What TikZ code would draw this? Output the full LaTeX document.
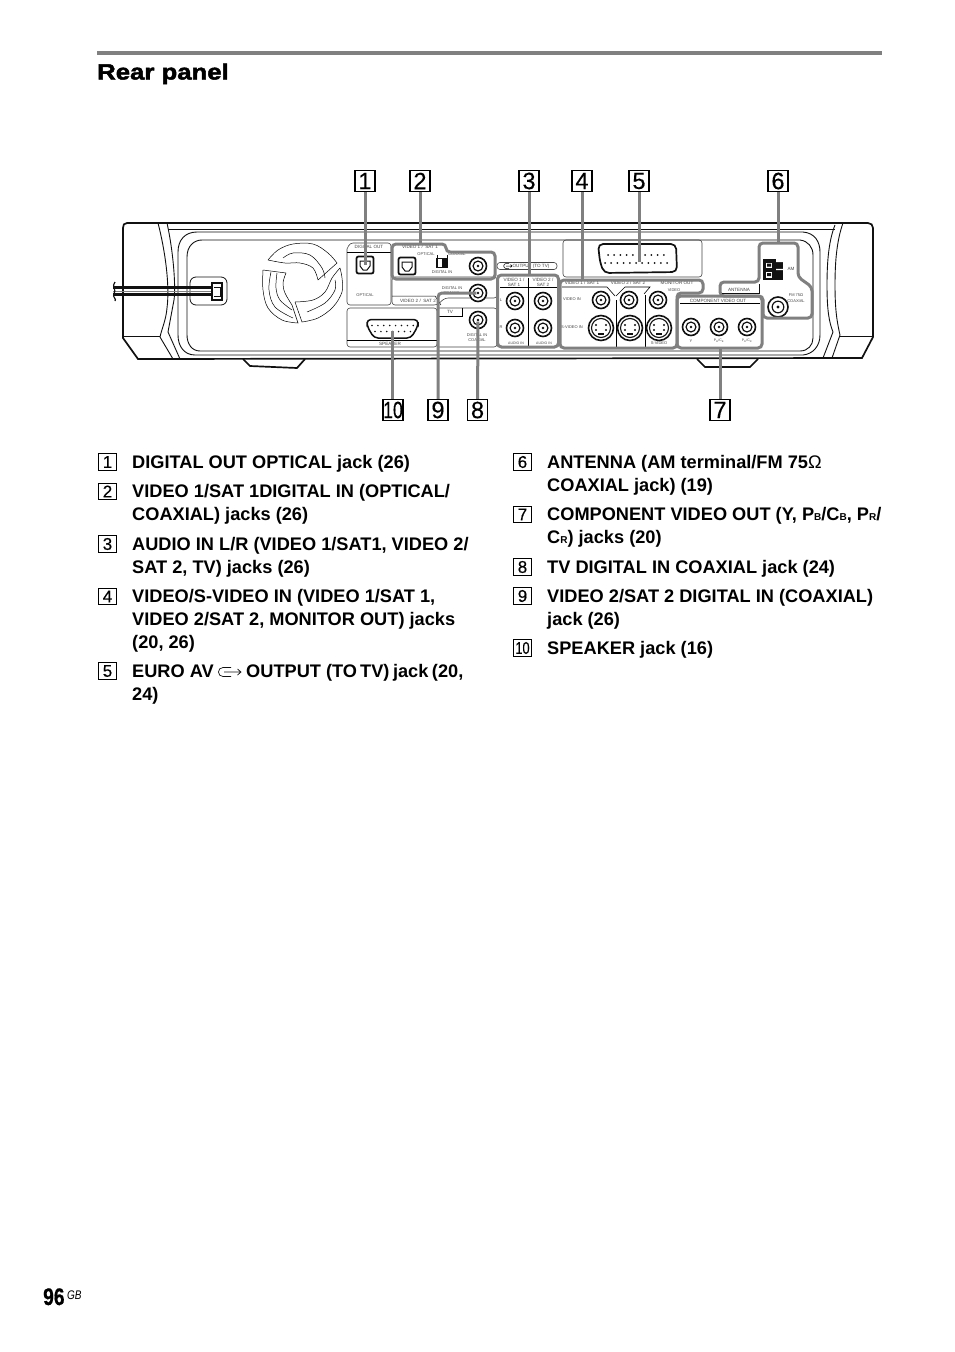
\documentclass[tikz,border=0pt]{standalone}
\usepackage{fontspec}
\setmainfont{Liberation Sans}
\newfontfamily\headf[BoldFeatures={FakeStretch=1.17,FakeBold=2.2}]{Liberation Sans}
\newfontfamily\numf[BoldFeatures={FakeStretch=0.8,FakeBold=0.6}]{Liberation Sans}
\newfontfamily\digf[FakeBold=0.4]{Liberation Sans}
\definecolor{lead}{HTML}{808080}
\definecolor{ink}{HTML}{111111}
\definecolor{thin}{HTML}{444444}
\newcounter{tlc}
\newcommand{\tl}[3]{\stepcounter{tlc}\node[tinytext] (t\thetlc) at (#1,#2) {#3};}
\newcommand{\ts}[3]{\stepcounter{tlc}\node[tinytext,font=\fontsize{4}{4}\selectfont] (t\thetlc) at (#1,#2) {#3};}
\newcommand{\tm}[3]{\stepcounter{tlc}\node[tinytext,font=\fontsize{3.5}{3.5}\selectfont] (t\thetlc) at (#1,#2) {#3};}
\newcommand{\coax}[4]{%
  \node[circle,draw=ink,line width=1.6pt,fill=white,inner sep=0,minimum size=#4pt] (#1) at (#2,#3) {};
  \node[circle,draw=ink,line width=1.2pt,inner sep=0,minimum size=0.58*#4pt] (#1i) at (#2,#3) {};
  \node[circle,fill=ink,inner sep=0,minimum size=0.16*#4pt] (#1c) at (#2,#3) {};}
\newcommand{\svid}[3]{%
  \node[circle,draw=ink,line width=1.6pt,fill=white,inner sep=0,minimum size=25pt] (#1) at (#2,#3) {};
  \node[circle,draw=ink,line width=1.1pt,inner sep=0,minimum size=19pt] (#1i) at (#2,#3) {};
  \fill[ink] (#2-5,#3-3) circle (1.2) (#2+5,#3-3) circle (1.2) (#2-5,#3+2) circle (1.2) (#2+5,#3+2) circle (1.2);
  \fill[ink] (#2-3,#3+5) rectangle (#2+3,#3+7);}
\newcommand{\optic}[3]{%
  \node[draw=ink,line width=1.8pt,rounded corners=2pt,fill=white,inner sep=0,minimum size=17pt] (#1) at (#2,#3) {};
  \draw[ink,line width=1pt] (#2-5,#3-4) -- (#2+5,#3-4) -- (#2+5,#3+1) -- (#2+2,#3+5) -- (#2-2,#3+5) -- (#2-5,#3+1) -- cycle;}
\tikzset{
  tinytext/.style={font=\fontsize{4.6}{4.6}\selectfont,text=thin,inner sep=0,anchor=center},
  panel/.style={draw=thin,line width=0.6pt,rounded corners=3pt},
  body/.style={ink,line width=0.9pt},
  heavy/.style={ink,line width=1.7pt},
  zone/.style={draw=lead,line width=3pt,rounded corners=4pt},
  leader/.style={lead,line width=3pt},
  bigbox/.style={draw=black,line width=1.2pt,fill=white,inner sep=0,minimum width=20pt,minimum height=21pt,font=\fontsize{23.5}{24}\digf\selectfont},
  keybox/.style={draw=black,line width=0.8pt,fill=white,inner sep=0,minimum width=18pt,minimum height=16.5pt,font=\fontsize{17}{17}\digf\selectfont},
  legend/.style={font=\fontsize{18.2}{23}\bfseries\selectfont,text=black,align=left,anchor=base west,inner sep=0,yshift=-0.8pt},
  blade/.style={thin,line width=0.5pt},
}
\newcommand{\sbs}[1]{{\fontsize{10}{10}\selectfont #1}}
\begin{document}
\begin{tikzpicture}[x=1pt,y=-1pt]
\useasboundingbox (0,0) rectangle (954,1352);
\fill[white] (0,0) rectangle (954,1352);
% header
\fill[lead] (97,51) rectangle (882,55);
\node[font=\fontsize{22}{24}\headf\bfseries\selectfont,anchor=base west,inner sep=0] (title) at (97,79.5) {Rear panel};
% chassis
\draw[heavy] (138,359) -- (123,338) -- (123,228) .. controls (123,225) and (124,223) .. (127,223) -- (868,223) .. controls (871,223) and (873,225) .. (873,228) -- (873,337) -- (862,358) -- cycle;
\draw[body] (123,336) -- (160,336) (840,336) -- (873,336);
\draw[body] (168,229) -- (835,229);
\draw[body] (158,223) .. controls (165,250) and (170,285) .. (167,308) .. controls (166,320) and (162,328) .. (160,337) -- (173,359);
\draw[body] (167,223) .. controls (173,250) and (176,285) .. (174,300) -- (168,332) -- (180,359);
\draw[body] (835,225) .. controls (829,240) and (827,260) .. (827,285) .. controls (827,310) and (829,322) .. (833,332) -- (823,358);
\draw[body] (843,223) .. controls (837,240) and (835,260) .. (835,285) .. controls (835,310) and (837,322) .. (840,335) -- (832,358);
\draw[body] (803,232) .. controls (815,233) and (820,242) .. (820,252) -- (820,335) .. controls (820,346) and (813,354) .. (803,355) -- (195,355) .. controls (184,355) and (178,346) .. (178,335) -- (178,252) .. controls (178,240) and (185,232) .. (197,232) -- cycle;
\draw[body] (800,240) .. controls (808,241) and (813,247) .. (813,255) -- (813,338) .. controls (813,345) and (808,351) .. (800,351) -- (200,351) .. controls (192,351) and (187,344) .. (187,335) -- (187,257) .. controls (187,246) and (194,240) .. (202,240) -- cycle;
\draw[heavy] (243,359) -- (250,366) -- (297,368) -- (305,359);
\draw[heavy] (697,359) -- (705,367) -- (750,367) -- (758,359);
% cord and socket
\node[draw=ink,line width=0.8pt,fill=white,rounded corners=6pt,inner sep=0,minimum width=37pt,minimum height=28pt] (socket) at (208.5,291) {};
\draw[ink,line width=2.2pt] (113,287.5) -- (219,287.5);
\draw[ink,line width=2.2pt] (113,294.5) -- (219,294.5);
\draw[lead,line width=1pt] (113,291) -- (219,291);
\draw[ink,line width=1.2pt] (115,282) .. controls (111,286) and (117,290) .. (114,294) .. controls (112,297) and (117,299) .. (115,301);
\node[draw=ink,line width=1.4pt,fill=white,inner sep=0,minimum width=10pt,minimum height=17pt] (plug) at (217,291.5) {};
\draw[ink,line width=1pt] (214,287) -- (220,287) -- (220,296) -- (214,296);
% fan
\draw[blade] plot[smooth,tension=.6] coordinates {(268,260) (278,250) (293,244) (313,244) (328,253) (337,263)} -- (318,280) plot[smooth,tension=.6] coordinates {(318,280) (313,268) (300,263) (285,263) (268,260)};
\draw[blade] plot[smooth,tension=.6] coordinates {(283,258) (293,253) (310,255) (322,268) (325,278)};
\draw[blade] plot[smooth,tension=.6] coordinates {(340,268) (342,278) (342,292) (333,307) (318,318) (302,322)} -- (295,302) plot[smooth,tension=.6] coordinates {(295,302) (313,300) (325,292) (332,278) (340,268)};
\draw[blade] plot[smooth,tension=.6] coordinates {(335,280) (335,290) (325,303) (307,312)};
\draw[blade] plot[smooth,tension=.6] coordinates {(263,270) (263,290) (268,308) (282,320) (298,323)} -- (292,305) plot[smooth,tension=.6] coordinates {(292,305) (285,293) (283,283) (286,273)} -- (263,270);
\draw[blade] plot[smooth,tension=.6] coordinates {(271,272) (269,290) (275,307) (293,318)};
\draw[blade] plot[smooth,tension=.6] coordinates {(277,273) (276,288) (280,300) (292,310)};
% panel frames
\draw[panel] (347,249) -- (347,305) -- (391,305) -- (391,243) -- (350,243) -- (347,249);
\draw[thin,line width=.5pt] (347,252) -- (391,252);
\draw[panel] (392,277) -- (392,305) -- (437,305) -- (445,298) -- (497,298) -- (497,277) -- cycle;
\draw[thin,line width=.5pt] (392,296) -- (435,296) -- (441,305);
\draw[panel] (347,308) -- (437,308) -- (437,347) -- (347,347) -- cycle;
\draw[thin,line width=.5pt] (347,340) -- (437,340);
\draw[panel] (437,308) -- (497,308) -- (497,347) -- (437,347);
\draw[thin,line width=.6pt] (437,316) -- (462,316) -- (462,308);
\draw[panel] (563,240) -- (702,240) -- (702,277) -- (563,277) -- cycle;
\node[draw=thin,line width=.6pt,rounded corners=3pt,inner sep=0,minimum width=60pt,minimum height=7pt] (outtag) at (527,266) {};
\draw[thin,line width=.6pt] (528,277.5) -- (528,347);
\draw[thin,line width=.6pt] (500,287) -- (557,287);
\draw[thin,line width=.6pt] (616,300) -- (616,347) (645,295) -- (645,347);
\draw[thin,line width=.6pt] (562,287) -- (607,287) -- (615,296) (616,296) -- (625,287) -- (650,287) -- (644,294);
\draw[thin,line width=.6pt] (680,303) -- (760,303);
% jacks
\optic{dout}{365}{265}
\optic{opt}{407}{266}
\node[draw=ink,line width=1.1pt,fill=white,inner sep=0,minimum width=10pt,minimum height=9pt] (sw) at (442,263) {};
\fill[ink] (442,258.5) rectangle (446.5,267.5);
\draw[ink,line width=1pt] (436,258) -- (448,258) (437,255) -- (437,258) (447,255) -- (447,258);
\coax{cox1}{478}{266}{17}
\coax{cox2}{478}{293}{17}
\coax{cox3}{478}{320}{17}
\coax{al1}{515}{301}{17}
\coax{al2}{543}{301}{17}
\coax{ar1}{515}{328}{17}
\coax{ar2}{543}{328}{17}
\coax{v1}{601}{300}{17}
\coax{v2}{629}{300}{17}
\coax{v3}{658}{300}{17}
\svid{s1}{601}{328}
\svid{s2}{630}{328}
\svid{s3}{659}{328}
\coax{c1}{691}{327}{17}
\coax{c2}{719}{327}{17}
\coax{c3}{747}{327}{17}
\coax{fm}{778}{307}{20}
% speaker D-sub
\draw[ink,line width=1.5pt,fill=white,rounded corners=4pt] (367,319.5) -- (418,319.5) -- (418,326) -- (411,338) -- (374,338) -- (367,326) -- cycle;
\node[inner sep=0,minimum size=1pt] (spk) at (392,330) {};
\foreach \i in {0,...,7}{\fill[ink] (372+\i*5.9,325.5) circle (.85);}
\foreach \i in {0,...,6}{\fill[ink] (375+\i*5.9,331.5) circle (.85);}
% scart
\draw[ink,line width=1.7pt,fill=white,rounded corners=5pt] (598,244) -- (676,244) -- (677,272) -- (604,273) -- (600,262) -- cycle;
\node[inner sep=0,minimum size=1pt] (scart) at (637,262) {};
\foreach \i in {0,...,9}{\fill[ink] (608+\i*6.2,255) circle (1);}
\foreach \i in {0,...,10}{\fill[ink] (605+\i*6.2,263) circle (1);}
% AM terminal
\fill[ink] (763,259) rectangle (783,280);
\node[draw=ink,fill=white,line width=.5pt,inner sep=0,minimum width=7pt,minimum height=6.5pt] (am1) at (769,265) {};
\node[draw=ink,fill=white,line width=.5pt,inner sep=0,minimum width=7pt,minimum height=6.5pt] (am2) at (769,274.5) {};
\fill[ink] (767,263.5) rectangle (771,266.5) (767,273) rectangle (771,276);
\fill[white] (776,259) rectangle (783,262) (776,268.9) rectangle (783,270.1);
% tiny text
\tl{369}{247}{DIGITAL OUT}
\ts{365}{295.5}{OPTICAL}
\tl{420}{247}{VIDEO 1 /\ \ SAT 1}
\ts{426}{254.5}{OPTICAL}
\ts{457}{254.5}{COAXIAL}
\ts{442}{272}{DIGITAL IN}
\ts{452}{288}{DIGITAL IN}
\ts{452}{293.5}{COAXIAL}
\tl{418}{301}{VIDEO 2 /\ \ SAT 2}
\tl{450}{311.5}{TV}
\ts{477}{335}{DIGITAL IN}
\ts{477}{340}{COAXIAL}
\tl{390}{343.5}{SPEAKER}
\tl{531}{266}{OUTPUT (TO TV)}
\draw[thin,line width=.5pt] (509,263.5) -- (506,263.5) .. controls (503,263.5) and (503,268.5) .. (506,268.5) -- (509,268.5) (506,266) -- (512,266) (510.5,264.5) -- (512,266) -- (510.5,267.5);
\tl{514}{280}{VIDEO 1 /}
\tl{514}{284.5}{SAT 1}
\tl{543}{280}{VIDEO 2 /}
\tl{543}{284.5}{SAT 2}
\ts{501}{300}{L}
\ts{501}{327}{R}
\tm{516}{343.5}{AUDIO IN}
\tm{544}{343.5}{AUDIO IN}
\tl{582}{283}{VIDEO 1 / SAT 1}
\tl{628}{283}{VIDEO 2 / SAT 2}
\tl{677}{283}{MONITOR OUT}
\ts{674}{290}{VIDEO}
\ts{572}{299}{VIDEO IN}
\ts{572}{327}{S-VIDEO IN}
\ts{659}{343.5}{S-VIDEO}
\tl{718}{301}{COMPONENT VIDEO OUT}
\ts{691}{341}{Y}
\tm{719}{341}{P\textsubscript{B}/C\textsubscript{B}}
\tm{747}{341}{P\textsubscript{R}/C\textsubscript{R}}
\tl{739}{290}{ANTENNA}
\tl{791}{269}{AM}
\ts{796}{295}{FM 75Ω}
\ts{796}{301}{COAXIAL}
% grey zones
\draw[zone] (392,279) -- (392,244) -- (446,244) -- (446,252) -- (495,252) -- (495,279) -- cycle;
\node[draw=lead,line width=3pt,rounded corners=4pt,inner sep=0,minimum width=61pt,minimum height=72pt] (zaudio) at (528,311) {};
\draw[zone] (560,348) -- (560,280) -- (703,280) -- (703,293) -- (677,293) -- (677,348) -- cycle;
\draw[zone] (677,348) -- (677,296) -- (762,296) -- (762,348) -- cycle;
\draw[zone] (759,243) -- (798,243) -- (798,277) -- (812,287) -- (812,318) -- (763,318) -- (763,296) -- (720,296) -- (720,282) -- (759,282) -- cycle;
\draw[ink,line width=.8pt] (722,293.8) -- (759,293.8) -- (759,284);
% callouts
\node[bigbox] (n1) at (365,181) {1};
\node[bigbox] (n2) at (420,181) {2};
\node[bigbox] (n3) at (529,181) {3};
\node[bigbox] (n4) at (582,181) {4};
\node[bigbox] (n5) at (639,181) {5};
\node[bigbox] (n6) at (778,181) {6};
\node[bigbox] (n10) at (393,410) {\scalebox{.75}[1]{10}};
\node[bigbox] (n9) at (438,410) {9};
\node[bigbox] (n8) at (477.5,410) {8};
\node[bigbox] (n7) at (720,410) {7};
\coordinate (z2) at (420,244);
\coordinate (z3) at (529,275);
\coordinate (z4) at (582,280);
\coordinate (z6) at (778,243);
\coordinate (z7) at (720,348);
\draw[leader] (n1) -- (dout.center);
\draw[leader] (n2) -- (z2);
\draw[leader] (n3) -- (z3);
\draw[leader] (n4) -- (z4);
\draw[leader] (n5.south) -- (scart.center -| n5.south);
\draw[leader] (n6) -- (z6);
\draw[leader] (n7) -- (z7);
\draw[leader] (n8) -- (cox3c);
\draw[leader,rounded corners=4pt] (n9) |- (cox2c);
\draw[leader] (n10.north -| spk) -- (spk);
% legend left
\node[keybox] (k1) at (107.5,462) {1};
\node[legend] (l1) at (132,467.5) {DIGITAL OUT OPTICAL jack (26)};
\node[keybox] (k2) at (107.5,491.5) {2};
\node[legend] (l2) at (132,497) {VIDEO 1/SAT 1DIGITAL IN (OPTICAL/};
\node[legend] (l2b) at (132,520) {COAXIAL) jacks (26)};
\node[keybox] (k3) at (107.5,544) {3};
\node[legend] (l3) at (132,549.5) {AUDIO IN L/R (VIDEO 1/SAT1, VIDEO 2/};
\node[legend] (l3b) at (132,572.5) {SAT 2, TV) jacks (26)};
\node[keybox] (k4) at (107.5,596.5) {4};
\node[legend] (l4) at (132,602) {VIDEO/S-VIDEO IN (VIDEO 1/SAT 1,};
\node[legend] (l4b) at (132,625) {VIDEO 2/SAT 2, MONITOR OUT) jacks};
\node[legend] (l4c) at (132,648) {(20, 26)};
\node[keybox] (k5) at (107.5,671) {5};
\node[legend] (l5) at (132,676.5) {EURO AV};
\draw[ink,line width=.7pt] (231,667.5) -- (223,667.5) .. controls (217,667.5) and (217,676.5) .. (223,676.5) -- (231,676.5) (224,672) -- (241,672) (237.5,669) -- (241,672) -- (237.5,675);
\node[legend] (l5a) at (246,676.5) {OUTPUT (TO\hspace{-2pt} TV)\hspace{-1.5pt} jack\hspace{-1.5pt} (20,};
\node[legend] (l5b) at (132,699.5) {24)};
% legend right
\node[keybox] (k6) at (522.5,462) {6};
\node[legend] (r6) at (547,467.5) {ANTENNA (AM terminal/FM 75{\mdseries Ω}};
\node[legend] (r6b) at (547,490.5) {COAXIAL jack) (19)};
\node[keybox] (k7) at (522.5,514.5) {7};
\node[legend] (r7) at (547,520) {COMPONENT VIDEO OUT (Y, P\sbs{B}/C\sbs{B}, P\sbs{R}/};
\node[legend] (r7b) at (547,543) {C\sbs{R}) jacks (20)};
\node[keybox] (k8) at (522.5,567) {8};
\node[legend] (r8) at (547,572.5) {TV DIGITAL IN COAXIAL jack (24)};
\node[keybox] (k9) at (522.5,596) {9};
\node[legend] (r9) at (547,601.5) {VIDEO 2/SAT 2 DIGITAL IN (COAXIAL)};
\node[legend] (r9b) at (547,624.5) {jack (26)};
\node[keybox] (k10) at (522.5,648) {\scalebox{.75}[1]{10}};
\node[legend] (r10) at (547,653.5) {SPEAKER jack (16)};
% folio
\node[font=\fontsize{24}{24}\numf\bfseries\selectfont,anchor=base west,inner sep=0] (folio) at (43,1305) {96};
\node[font=\fontsize{12.5}{13}\itshape\selectfont,anchor=base west,inner sep=0] (gb) at (67,1299) {\scalebox{.8}[1]{GB}};
\end{tikzpicture}
\end{document}
